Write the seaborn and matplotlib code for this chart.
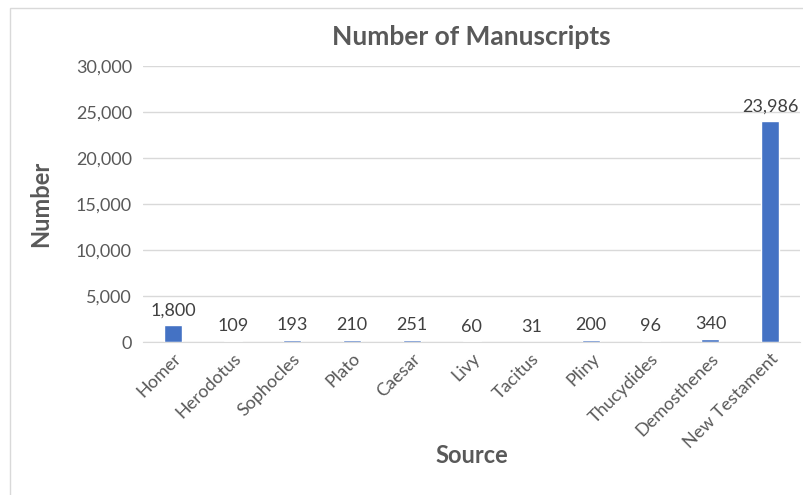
import matplotlib
matplotlib.use('Agg')
import matplotlib.pyplot as plt
import seaborn as sns
import pandas as pd
from matplotlib.patches import Rectangle
from matplotlib.ticker import FuncFormatter

# Chart data
sources = ['Homer', 'Herodotus', 'Sophocles', 'Plato', 'Caesar', 'Livy',
           'Tacitus', 'Pliny', 'Thucydides', 'Demosthenes', 'New Testament']
manuscripts = [1800, 109, 193, 210, 251, 60, 31, 200, 96, 340, 23986]

df = pd.DataFrame({'Source': sources, 'Number': manuscripts})

sns.set_style('white')
plt.rcParams['font.family'] = ['Lato', 'DejaVu Sans']

grey = '#595959'
fig = plt.figure(figsize=(8.04, 4.95), dpi=100)
ax = fig.add_axes([0.178, 0.309, 0.817, 0.558])

sns.barplot(x='Source', y='Number', data=df, color='#4472C4', width=0.3,
            saturation=1, ax=ax)

# data labels
for i, v in enumerate(manuscripts):
    ax.annotate(f'{v:,}', (i, v), xytext=(0, 5), textcoords='offset points',
                ha='center', va='bottom', fontsize=13, color='#404040')

ax.set_ylim(0, 30000)
ax.set_yticks(range(0, 30001, 5000))
ax.yaxis.set_major_formatter(FuncFormatter(lambda x, p: f'{int(x):,}'))
ax.grid(axis='y', color='#d9d9d9', linewidth=1)
ax.set_axisbelow(True)
for s in ['top', 'right', 'left']:
    ax.spines[s].set_visible(False)
ax.spines['bottom'].set_color('#d9d9d9')
ax.tick_params(axis='both', length=0, labelsize=13, colors=grey, pad=8)
ax.tick_params(axis='x', pad=6)
plt.setp(ax.get_xticklabels(), rotation=45, ha='right', rotation_mode='anchor')

ax.set_title('Number of Manuscripts', fontsize=19, fontweight='bold', color=grey, pad=15)
ax.set_xlabel('Source', fontsize=17, fontweight='bold', color=grey, labelpad=-5)
ax.set_ylabel('Number', fontsize=17, fontweight='bold', color=grey, labelpad=17)

# chart border
fig.patches.append(Rectangle((0.012, -0.01), 1.0, 0.993, transform=fig.transFigure,
                             fill=False, edgecolor='#d9d9d9', linewidth=1))

fig.savefig('out.png', dpi=100)
